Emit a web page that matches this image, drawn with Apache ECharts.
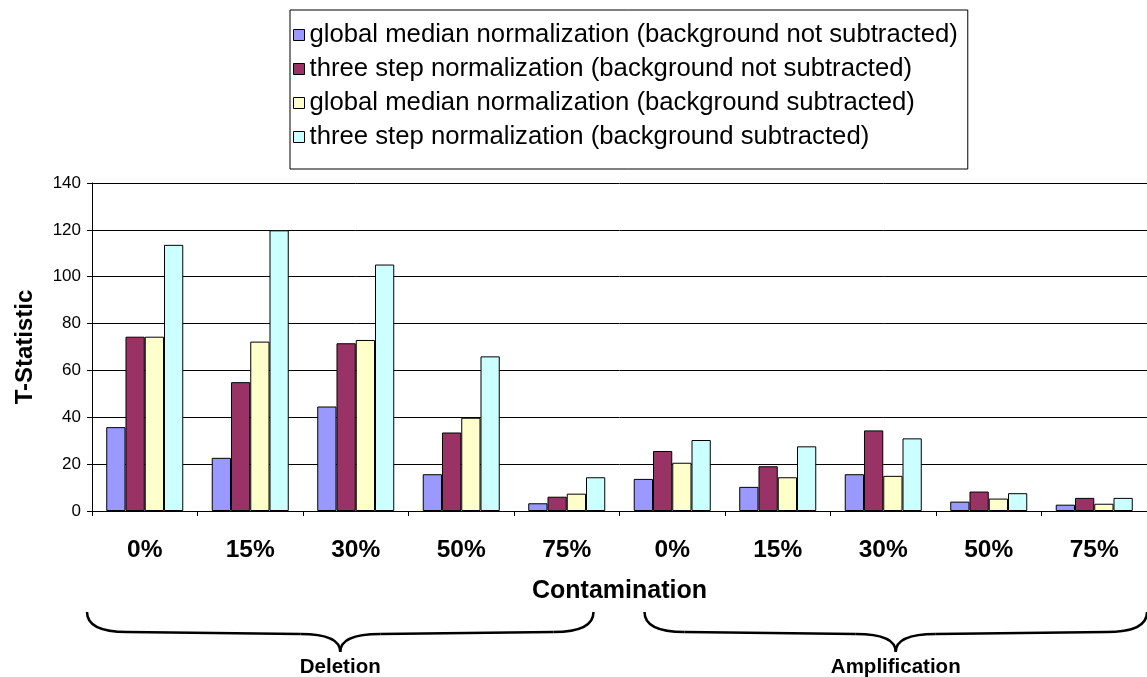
<!DOCTYPE html>
<html>
<head>
<meta charset="utf-8">
<script src="https://cdn.jsdelivr.net/npm/echarts@6/dist/echarts.min.js"></script>
<style>
  html, body { margin: 0; padding: 0; background: #fff; }
  #chart { width: 1147px; height: 677px; }
</style>
</head>
<body>
<div id="chart"></div>
<script>
// Contamination levels, first five for deletion, last five for amplification
const categories = ['0%', '15%', '30%', '50%', '75%', '0%', '15%', '30%', '50%', '75%'];
const groups = ['Deletion', 'Amplification'];

const seriesNames = [
  'global median normalization (background not subtracted)',
  'three step normalization (background not subtracted)',
  'global median normalization (background subtracted)',
  'three step normalization (background subtracted)'
];

const globalMedianNotSub = [35.8, 22.7, 44.6, 15.7, 3.3, 13.7, 10.3, 15.7, 4.0, 2.7];
const threeStepNotSub    = [74.4, 55.0, 71.6, 33.5, 6.1, 25.6, 19.1, 34.4, 8.3, 5.6];
const globalMedianSub    = [74.4, 72.3, 73.0, 39.8, 7.4, 20.6, 14.4, 15.0, 5.3, 3.1];
const threeStepSub       = [113.6, 119.8, 105.2, 66.0, 14.4, 30.3, 27.6, 31.0, 7.6, 5.6];

const yTicks = { min: 0, max: 140, interval: 20 };

const colors = ['#9999FF', '#993366', '#FFFFCC', '#CCFFFF'];
const FONT = 'Liberation Sans, Arial, Helvetica, sans-serif';

const chart = echarts.init(document.getElementById('chart'), null, { renderer: 'canvas' });

const values = [globalMedianNotSub, threeStepNotSub, globalMedianSub, threeStepSub];

const option = {
  animation: false,
  backgroundColor: '#fff',
  color: colors,
  textStyle: { fontFamily: FONT, color: '#000' },
  legend: {
    orient: 'vertical',
    left: 290,
    top: 10,
    padding: [12, 10, 19, 3],
    itemGap: 8,
    itemWidth: 11,
    itemHeight: 11,
    borderColor: '#000',
    borderWidth: 1,
    borderRadius: 0,
    backgroundColor: '#fff',
    icon: 'rect',
    itemStyle: { borderColor: '#000', borderWidth: 1 },
    textStyle: { fontFamily: FONT, fontSize: 25.7, color: '#000', lineHeight: 26 },
    data: seriesNames
  },
  grid: { left: 92, right: -12, top: 183, bottom: 166, containLabel: false },
  xAxis: {
    type: 'category',
    data: categories,
    name: 'Contamination',
    nameLocation: 'middle',
    nameGap: 68,
    nameTextStyle: { fontFamily: FONT, fontSize: 25, fontWeight: 'bold', color: '#000' },
    axisLine: { lineStyle: { color: '#000', width: 1 } },
    axisTick: { show: true, length: 5, lineStyle: { color: '#000' } },
    axisLabel: { fontFamily: FONT, fontSize: 24.5, fontWeight: 'bold', color: '#000', margin: 27, interval: 0 }
  },
  yAxis: {
    type: 'value',
    min: yTicks.min,
    max: yTicks.max,
    interval: yTicks.interval,
    name: 'T-Statistic',
    nameLocation: 'middle',
    nameGap: 55,
    nameRotate: 90,
    nameTextStyle: { fontFamily: FONT, fontSize: 24, fontWeight: 'bold', color: '#000' },
    axisLine: { show: true, lineStyle: { color: '#000', width: 1 } },
    axisTick: { show: true, length: 5, lineStyle: { color: '#000' } },
    axisLabel: { fontFamily: FONT, fontSize: 17, color: '#000', margin: 11 },
    splitLine: { show: true, lineStyle: { color: '#000', width: 1 } }
  },
  series: seriesNames.map((name, i) => ({
    name: name,
    type: 'bar',
    data: values[i],
    barGap: '0%',
    barCategoryGap: '27%',
    itemStyle: { color: colors[i], borderColor: '#000', borderWidth: 1 }
  }))
};

chart.setOption(option);

// Curly brace built from quadratic curves and straight runs
function braceElements(x1, x2, yTop, yMid, yTip) {
  const xm = (x1 + x2) / 2;
  const r = 40;
  const style = { fill: null, stroke: '#000', lineWidth: 2.5 };
  const curve = (ax, ay, cx, cy, bx, by) => ({
    type: 'bezierCurve', silent: true, style: style,
    shape: { x1: ax, y1: ay, cpx1: cx, cpy1: cy, x2: bx, y2: by }
  });
  const line = (ax, ay, bx, by) => ({
    type: 'line', silent: true, style: style,
    shape: { x1: ax, y1: ay, x2: bx, y2: by }
  });
  return [
    curve(x1, yTop, x1, yMid, x1 + r, yMid),
    line(x1 + r, yMid, xm - r, yMid + 2),
    curve(xm - r, yMid + 2, xm, yMid + 2, xm, yTip),
    curve(xm, yTip, xm, yMid + 2, xm + r, yMid + 2),
    line(xm + r, yMid + 2, x2 - r, yMid),
    curve(x2 - r, yMid, x2, yMid, x2, yTop)
  ];
}

const c0 = chart.convertToPixel({ xAxisIndex: 0 }, 0);
const c1 = chart.convertToPixel({ xAxisIndex: 0 }, 1);
const band = c1 - c0;
const edge = (i) => c0 + (i - 0.5) * band;

const braces = [
  { x1: edge(0) - 5, x2: edge(5) - 26, label: groups[0] },
  { x1: edge(5) + 25, x2: edge(10), label: groups[1] }
];

const graphic = [];
braces.forEach(b => {
  braceElements(b.x1, b.x2, 612, 632, 652).forEach(el => graphic.push(el));
  graphic.push({
    type: 'text',
    x: (b.x1 + b.x2) / 2,
    y: 667,
    silent: true,
    style: {
      text: b.label,
      fontFamily: FONT,
      fontSize: 20.5,
      fontWeight: 'bold',
      fill: '#000',
      align: 'center',
      verticalAlign: 'middle'
    }
  });
});

chart.setOption({ graphic: graphic });
</script>
</body>
</html>
